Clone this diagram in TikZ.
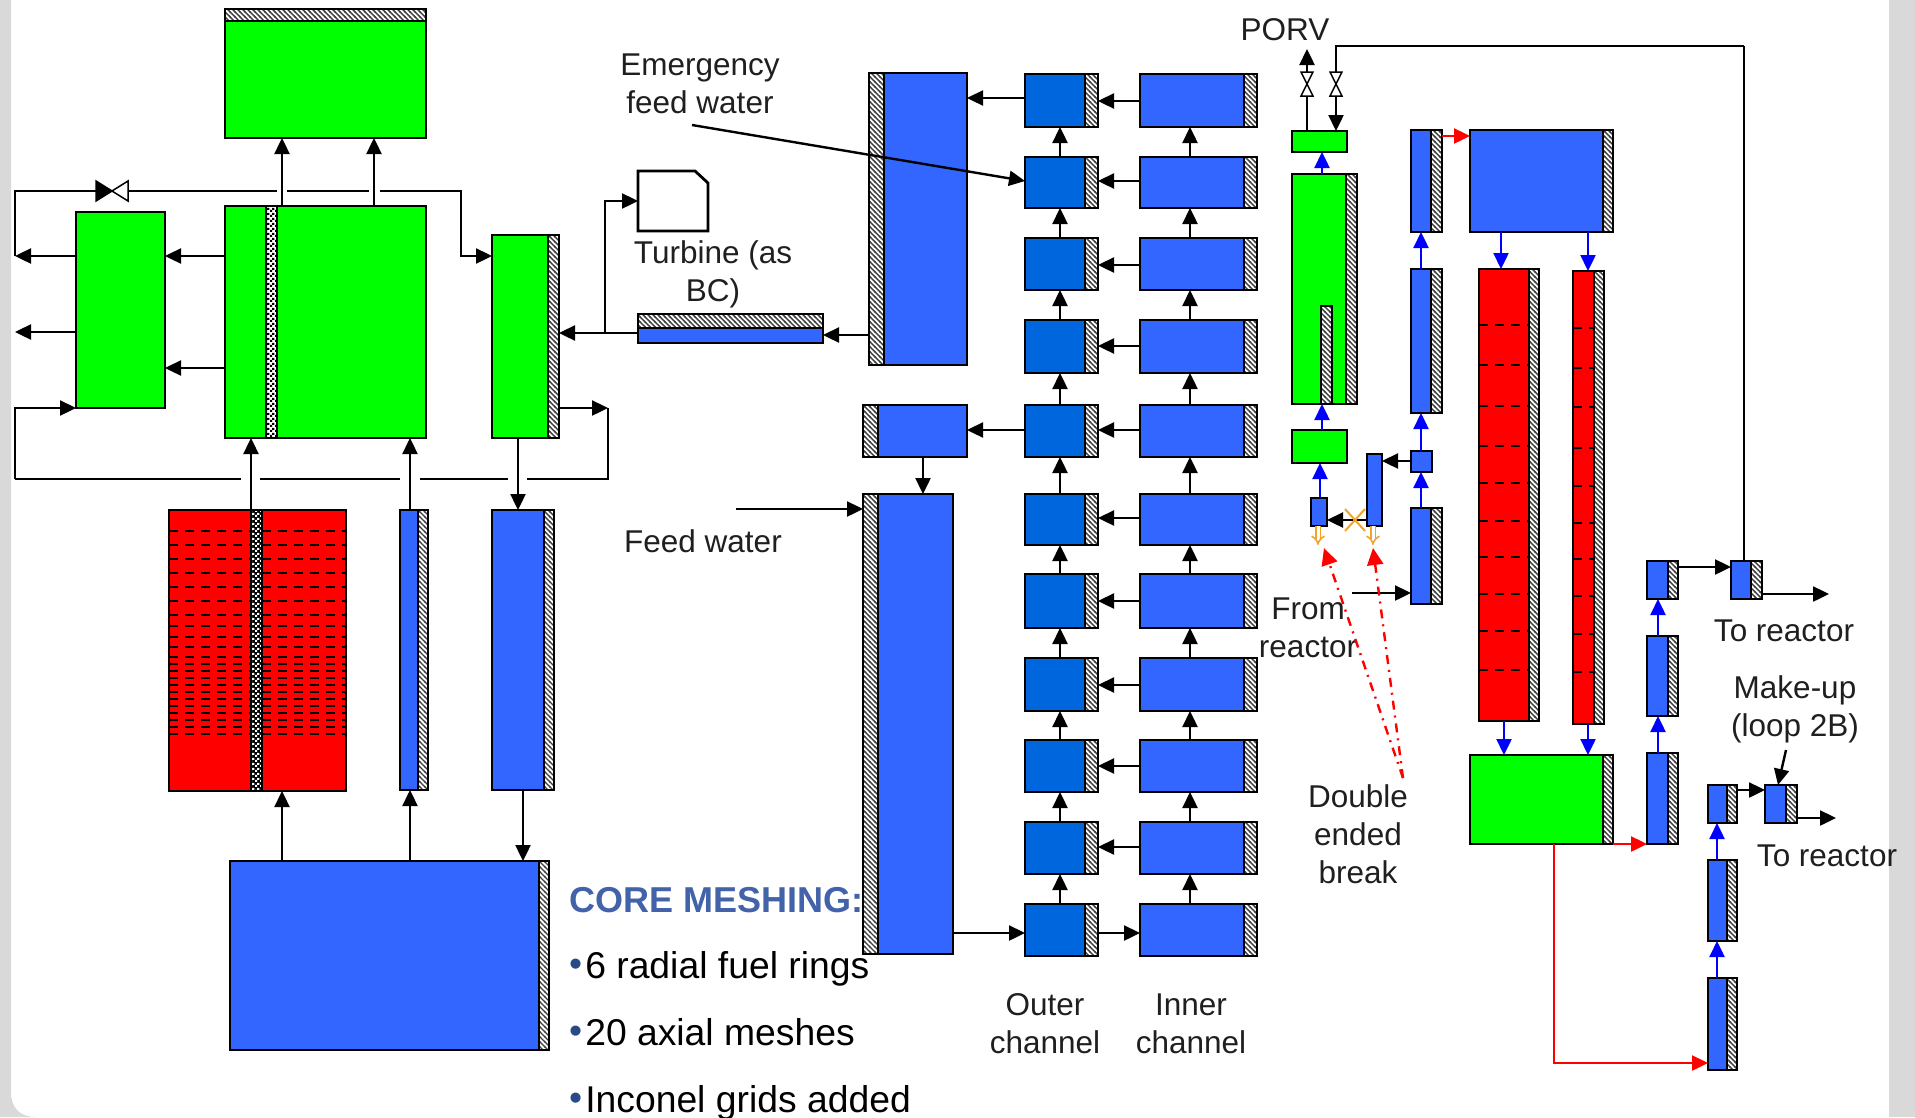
\documentclass[tikz,border=0pt]{standalone}
\usepackage{xcolor}
\usepackage{fontspec}
\setmainfont{Liberation Sans}
\usetikzlibrary{arrows.meta,patterns,shapes.misc}
\definecolor{RigGreen}{RGB}{0,255,0}
\definecolor{RigRed}{RGB}{255,0,0}
\definecolor{RigBlue}{RGB}{51,102,255}
\definecolor{RigDeep}{RGB}{0,102,221}
\definecolor{RigFlow}{RGB}{0,0,255}
\definecolor{RigOrange}{RGB}{240,165,40}
\definecolor{RigFrame}{RGB}{217,217,217}
\definecolor{RigTitle}{RGB}{66,98,170}
\definecolor{RigDot}{RGB}{40,75,135}

\pgfdeclarepatternformonly{righatch}{\pgfqpoint{-1pt}{-1pt}}{\pgfqpoint{6pt}{6pt}}{\pgfqpoint{5pt}{5pt}}{
  \pgfsetlinewidth{1.4pt}
  \pgfpathmoveto{\pgfqpoint{-1pt}{6pt}}
  \pgfpathlineto{\pgfqpoint{6pt}{-1pt}}
  \pgfusepath{stroke}
}
\pgfdeclarepatternformonly{rigchecks}{\pgfqpoint{0pt}{0pt}}{\pgfqpoint{5pt}{5pt}}{\pgfqpoint{5pt}{5pt}}{
  \pgfpathrectangle{\pgfqpoint{0pt}{0pt}}{\pgfqpoint{2.5pt}{2.5pt}}
  \pgfpathrectangle{\pgfqpoint{2.5pt}{2.5pt}}{\pgfqpoint{2.5pt}{2.5pt}}
  \pgfusepath{fill}
}

\newcommand{\vessel}[6]{\node[box,#2,minimum width={#5-#3},minimum height={#6-#4}] (#1) at ({(#3+#5)/2},{(#4+#6)/2}) {};}
\newcommand{\vesselR}[7]{\vessel{#1}{#2}{#3}{#4}{#7}{#6}\vessel{#1-h}{hatch}{#7}{#4}{#5}{#6}}
\newcommand{\vesselL}[7]{\vessel{#1-h}{hatch}{#3}{#4}{#7}{#6}\vessel{#1}{#2}{#7}{#4}{#5}{#6}}

\begin{document}
\begin{tikzpicture}[
    x=1pt,y=-1pt,
    box/.style={draw=black, line width=2.8pt, inner sep=0pt, outer sep=0pt},
    hatch/.style={preaction={fill=white}, pattern=righatch, pattern color=black!75},
    checker/.style={preaction={fill=white}, pattern=rigchecks, pattern color=black},
    blackchecker/.style={preaction={fill=black}, pattern=rigchecks, pattern color=white},
    wgreen/.style={fill=RigGreen},
    wred/.style={fill=RigRed},
    wblue/.style={fill=RigBlue},
    wdeep/.style={fill=RigDeep},
    pipeline/.style={line width=2.8pt, draw=black},
    flow/.style={line width=2.4pt, draw=black, -{Triangle[length=16pt,width=15pt]}},
    blueflow/.style={line width=2.4pt, draw=RigFlow, -{Triangle[length=16pt,width=15pt]}},
    redflow/.style={line width=2.4pt, draw=RigRed, -{Triangle[length=16pt,width=15pt]}},
    breakflow/.style={draw=RigOrange, line width=1.6pt, double=white, double distance=3pt, -{Implies}},
    tearflow/.style={draw=RigRed, line width=2.4pt, dash pattern=on 9pt off 6pt on 2pt off 6pt, -{Triangle[length=17pt,width=16pt]}},
    mesh/.style={draw=black, line width=2pt, dash pattern=on 9pt off 7pt},
    label/.style={font=\fontsize{31.5}{38}\selectfont, inner sep=0pt, align=center, anchor=base, text=black!88},
    core/.style={font=\fontsize{37.3}{38}\selectfont, inner sep=0pt, anchor=base west, text=black}
  ]
    \useasboundingbox (0,0) rectangle (1915,1117);
    % frame of the slide
    \fill[RigFrame] (0,0) -- (11,0) -- (11,1092) .. controls (11,1108) and (20,1117) .. (36,1117) -- (0,1117) -- cycle;
    \fill[RigFrame] (1889,0) rectangle (1915,1117);

    \begin{scope}[shift={(0,1)}]
    % secondary side, left
    \vessel{domeh}{hatch}{225}{8}{426}{20}
    \vessel{dome}{wgreen}{225}{20}{426}{137}
    \vessel{sep}{wgreen}{225}{205}{426}{437}
    \vessel{sepstrip}{checker}{266}{205}{277}{437}
    \vessel{lbox}{wgreen}{76}{211}{165}{407}
    \vesselR{rbox}{wgreen}{492}{234}{559}{437}{548}
    \vessel{rcore}{wred}{169}{509}{346}{790}
    \vessel{rcorestrip}{blackchecker}{251}{509}{262}{790}
    \vesselR{bypass}{wblue}{400}{509}{428}{789}{418}
    \vesselR{downc}{wblue}{492}{509}{554}{789}{544}
    \vesselR{lplen}{wblue}{230}{860}{549}{1049}{539}
    \foreach \y in {530,544,558,572,586,600,614,625,636,646,656,663,670,677,684,691,698,705,712,719,726,733} {
      \draw[mesh] (rcore.west |- 0,\y) -- (rcorestrip.west |- 0,\y);
      \draw[mesh] (rcorestrip.east |- 0,\y) -- (rcore.east |- 0,\y);
    }
    \draw[flow] (sep.north -| 282,0) -- (dome.south -| 282,0);
    \draw[flow] (sep.north -| 374,0) -- (dome.south -| 374,0);
    \draw[flow] (sep.west |- 0,255) -- (lbox.east |- 0,255);
    \draw[flow] (sep.west |- 0,367) -- (lbox.east |- 0,367);
    \draw[flow] (rcore.north -| 251,0) -- (sep.south -| 251,0);
    \draw[flow] (bypass.north -| 410,0) -- (sep.south -| 410,0);
    \draw[flow] (rbox.south -| 518,0) -- (downc.north -| 518,0);
    \draw[flow] (lplen.north -| 282,0) -- (rcore.south -| 282,0);
    \draw[flow] (lplen.north -| 410,0) -- (bypass.south -| 410,0);
    \draw[flow] (downc.south -| 523,0) -- (lplen.north -| 523,0);

    % loop round the steam lines
    \coordinate (loopA) at (15,255);
    \coordinate (loopB) at (15,331);
    \coordinate (loopC) at (15,190);
    \coordinate (loopD) at (15,407);
    \coordinate (loopE) at (15,478);
    \coordinate (loopF) at (608,478);
    \coordinate (loopG) at (608,407);
    \coordinate (loopH) at (461,190);
    \coordinate (loopI) at (461,255);
    \coordinate (valveh) at (112,190);
    \coordinate (gapA) at (277,190);
    \coordinate (gapB) at (287,190);
    \coordinate (gapC) at (369,190);
    \coordinate (gapD) at (380,190);
    \coordinate (gapE) at (241,478);
    \coordinate (gapF) at (260,478);
    \coordinate (gapG) at (400,478);
    \coordinate (gapH) at (420,478);
    \coordinate (gapI) at (508,478);
    \coordinate (gapJ) at (527,478);
    \draw[flow] (lbox.west |- loopA) -- (loopA);
    \draw[flow] (lbox.west |- loopB) -- (loopB);
    \draw[pipeline] (valveh) -- (loopC) -- (loopA);
    \draw[pipeline] (valveh) -- (gapA);
    \draw[pipeline] (gapB) -- (gapC);
    \draw[flow] (gapD) -- (loopH) -- (loopI) -- (rbox.west |- loopI);
    \draw[fill=black, line width=1.5pt] (valveh) -- ++(-16,-10) -- ++(0,20) -- cycle;
    \draw[fill=white, line width=1.5pt] (valveh) -- ++(16,-10) -- ++(0,20) -- cycle;
    \draw[flow] (loopE) -- (loopD) -- (lbox.west |- loopD);
    \draw[pipeline] (loopE) -- (gapE);
    \draw[pipeline] (gapF) -- (gapG);
    \draw[pipeline] (gapH) -- (gapI);
    \draw[pipeline] (gapJ) -- (loopF) -- (loopG);
    \draw[flow] (rbox-h.east |- loopG) -- (loopG);

    % turbine and steam pipe
    \draw[line width=2.8pt, fill=white] (638,170) -- (695,170) -- (708,182) -- (708,230) -- (638,230) -- cycle;
    \coordinate (turbin) at (638,200);
    \coordinate (tee) at (605,332);
    \vessel{pipeh}{hatch}{638}{313}{823}{327}
    \vessel{pipe}{wblue}{638}{327}{823}{342}
    \draw[flow] (pipe.west |- tee) -- (rbox-h.east |- tee);
    \draw[flow] (tee) |- (turbin);

    % primary columns
    \vesselL{upper}{wblue}{869}{72}{967}{364}{884}
    \vesselL{mid}{wblue}{863}{404}{967}{456}{878}
    \vesselL{feed}{wblue}{863}{493}{953}{953}{878}
    \foreach \r/\ya/\yb/\ym in {1/73/126/100,2/156/207/180,3/237/289/264,4/319/372/345,5/404/456/429,6/493/544/517,7/573/627/600,8/657/710/684,9/739/791/765,10/821/873/846} {
      \vesselR{outer\r}{wdeep}{1025}{\ya}{1098}{\yb}{1085}
      \vesselR{inner\r}{wblue}{1140}{\ya}{1257}{\yb}{1244}
      \draw[flow] (inner\r.west |- 0,\ym) -- (outer\r-h.east |- 0,\ym);
    }
    \vesselR{outer11}{wdeep}{1025}{903}{1098}{955}{1085}
    \vesselR{inner11}{wblue}{1140}{903}{1257}{955}{1244}
    \foreach \r/\s in {2/1,3/2,4/3,5/4,6/5,7/6,8/7,9/8,10/9,11/10} {
      \draw[flow] (outer\r.north -| 1060,0) -- (outer\s.south -| 1060,0);
      \draw[flow] (inner\r.north -| 1190,0) -- (inner\s.south -| 1190,0);
    }
    \draw[flow] (outer1.west |- 0,97) -- (upper.east |- 0,97);
    \draw[flow] (outer5.west |- 0,429) -- (mid.east |- 0,429);
    \draw[flow] (mid.south -| 923,0) -- (feed.north -| 923,0);
    \draw[flow] (feed.east |- 0,932) -- (outer11.west |- 0,932);
    \draw[flow] (outer11-h.east |- 0,932) -- (inner11.west |- 0,932);
    \draw[flow] (upper-h.west |- 0,334) -- (pipe.east |- 0,334);

    % pressuriser
    \vessel{pstop}{wgreen}{1292}{130}{1347}{151}
    \vesselR{press}{wgreen}{1292}{173}{1357}{403}{1346}
    \vessel{pressin}{hatch}{1321}{305}{1332}{403}
    \vessel{pslow}{wgreen}{1292}{429}{1347}{462}
    \vessel{brkA}{wblue}{1311}{497}{1327}{525}
    \vessel{brkB}{wblue}{1367}{453}{1382}{525}
    \vessel{brkC}{wblue}{1411}{450}{1432}{471}
    \vesselR{hlA}{wblue}{1411}{507}{1442}{603}{1431}
    \vesselR{hlB}{wblue}{1411}{268}{1442}{412}{1431}
    \vesselR{hlC}{wblue}{1411}{129}{1442}{231}{1431}
    \coordinate (porvtop) at (1307,48);
    \coordinate (sprayin) at (1336,45);
    \coordinate (sprayout) at (1744,45);
    \coordinate (valveA) at (1307,83);
    \coordinate (valveB) at (1336,83);
    \draw[flow] (pstop.north -| porvtop) -- (porvtop);
    \draw[flow] (sprayout) -- (sprayin) -- (pstop.north -| sprayin);
    \foreach \v in {valveA,valveB} {
      \draw[fill=white, line width=1.5pt] (\v) -- ++(-6,-12) -- ++(12,0) -- cycle;
      \draw[fill=white, line width=1.5pt] (\v) -- ++(-6,12) -- ++(12,0) -- cycle;
    }
    \draw[blueflow] (press.north -| 1322,0) -- (pstop.south -| 1322,0);
    \draw[blueflow] (pslow.north -| 1322,0) -- (press.south -| 1322,0);
    \draw[blueflow] (brkA.north -| 1320,0) -- (pslow.south -| 1320,0);
    \draw[flow] (brkC.west |- 0,460) -- (brkB.east |- 0,460);
    \draw[flow] (brkB.west |- 0,519) -- (brkA.east |- 0,519);
    \node[cross out, draw=RigOrange, line width=2pt, minimum width=18pt, minimum height=20pt, inner sep=0pt] (xbreak) at (1355,519) {};
    \coordinate (tipA) at (1318,544);
    \coordinate (tipB) at (1373,544);
    \draw[breakflow] (brkA.south -| tipA) -- (tipA);
    \draw[breakflow] (brkB.south -| tipB) -- (tipB);
    \draw[blueflow] (hlA.north -| 1421,0) -- (brkC.south -| 1421,0);
    \draw[blueflow] (brkC.north -| 1421,0) -- (hlB.south -| 1421,0);
    \draw[blueflow] (hlB.north -| 1421,0) -- (hlC.south -| 1421,0);
    \coordinate (fromreac) at (1352,592);
    \draw[flow] (fromreac) -- (hlA.west |- fromreac);

    % steam generator tubes and plena
    \vesselR{splen}{wblue}{1470}{129}{1613}{231}{1603}
    \vesselR{tubeA}{wred}{1479}{268}{1539}{720}{1529}
    \vesselR{tubeB}{wred}{1573}{270}{1604}{723}{1594}
    \vesselR{gplen}{wgreen}{1470}{754}{1613}{843}{1603}
    \foreach \y in {324,364,405,445,482,520,556,593,630,669} {
      \draw[mesh] (tubeA.west |- 0,\y) -- (tubeA.east |- 0,\y);
    }
    \foreach \y in {327,367,406,447,485,522,558,595,633,671} {
      \draw[mesh] (tubeB.west |- 0,\y) -- (tubeB.east |- 0,\y);
    }
    \draw[redflow] (hlC-h.east |- 0,135) -- (splen.west |- 0,135);
    \draw[blueflow] (splen.south -| 1501,0) -- (tubeA.north -| 1501,0);
    \draw[blueflow] (splen.south -| 1588,0) -- (tubeB.north -| 1588,0);
    \draw[blueflow] (tubeA.south -| 1504,0) -- (gplen.north -| 1504,0);
    \draw[blueflow] (tubeB.south -| 1588,0) -- (gplen.north -| 1588,0);

    % cold legs
    \vesselR{clA}{wblue}{1647}{752}{1678}{843}{1668}
    \vesselR{clB}{wblue}{1647}{635}{1678}{715}{1668}
    \vesselR{clC}{wblue}{1647}{560}{1678}{598}{1668}
    \vesselR{clD}{wblue}{1731}{560}{1762}{598}{1751}
    \vesselR{mkA}{wblue}{1708}{977}{1737}{1069}{1727}
    \vesselR{mkB}{wblue}{1708}{859}{1737}{940}{1727}
    \vesselR{mkC}{wblue}{1708}{784}{1737}{822}{1727}
    \vesselR{mkD}{wblue}{1765}{784}{1797}{822}{1786}
    \coordinate (toreacA) at (1829,593);
    \coordinate (toreacB) at (1836,817);
    \coordinate (makeup) at (1786,749);
    \coordinate (redturn) at (1554,1062);
    \draw[redflow] (gplen-h.east |- 0,843) -- (clA.west |- 0,843);
    \draw[redflow] (gplen.south -| redturn) -- (redturn) -- (mkA.west |- redturn);
    \draw[blueflow] (clA.north -| 1658,0) -- (clB.south -| 1658,0);
    \draw[blueflow] (clB.north -| 1658,0) -- (clC.south -| 1658,0);
    \draw[flow] (clC-h.east |- 0,566) -- (clD.west |- 0,566);
    \draw[flow] (clD-h.east |- toreacA) -- (toreacA);
    \draw[pipeline] (clD.north -| sprayout) -- (sprayout);
    \draw[blueflow] (mkA.north -| 1717,0) -- (mkB.south -| 1717,0);
    \draw[blueflow] (mkB.north -| 1717,0) -- (mkC.south -| 1717,0);
    \draw[flow] (mkC-h.east |- 0,789) -- (mkD.west |- 0,789);
    \draw[flow] (mkD-h.east |- toreacB) -- (toreacB);
    \draw[flow] (makeup) -- (mkD.north -| 1778,0);

    % labels
    \coordinate (emstart) at (692,124);
    \coordinate (fwstart) at (736,508);
    \draw[flow] (emstart) -- (outer2.west |- 0,180);
    \draw[flow] (fwstart) -- (feed-h.west |- fwstart);
    \node[label] (lblPorv) at (1285,39) {PORV};
    \node[label] (lblEmer) at (700,112) {Emergency\\feed water};
    \node[label] (lblTurb) at (713,300) {Turbine (as\\BC)};
    \node[label] (lblFeed) at (703,551) {Feed water};
    \node[label] (lblOuter) at (1045,1052) {Outer\\channel};
    \node[label] (lblInner) at (1191,1052) {Inner\\channel};
    \node[label] (lblFrom) at (1308,656) {From\\reactor};
    \node[label] (lblDouble) at (1358,882) {Double\\ended\\break};
    \node[label] (lblToA) at (1784,640) {To reactor};
    \node[label] (lblMake) at (1795,735) {Make-up\\(loop 2B)};
    \node[label] (lblToB) at (1827,865) {To reactor};
    \coordinate (tearfrom) at (1403,777);
    \coordinate (tearA) at (1324,547);
    \coordinate (tearB) at (1373,547);
    \draw[tearflow] (tearfrom) -- (tearA);
    \draw[tearflow] (tearfrom) -- (tearB);

    \node[font=\bfseries\fontsize{36}{38}\selectfont, inner sep=0pt, anchor=base west, text=RigTitle] (lblCore) at (569,911) {CORE MESHING:};
    \foreach \n/\y/\t in {ringA/977/6 radial fuel rings,ringB/1044/20 axial meshes,ringC/1111/Inconel grids added} {
      \node[core] (\n) at (569,\y) {\textcolor{RigDot}{\raisebox{2pt}{•}}\kern3pt\t};
    }
    \end{scope}
  \end{tikzpicture}
\end{document}
